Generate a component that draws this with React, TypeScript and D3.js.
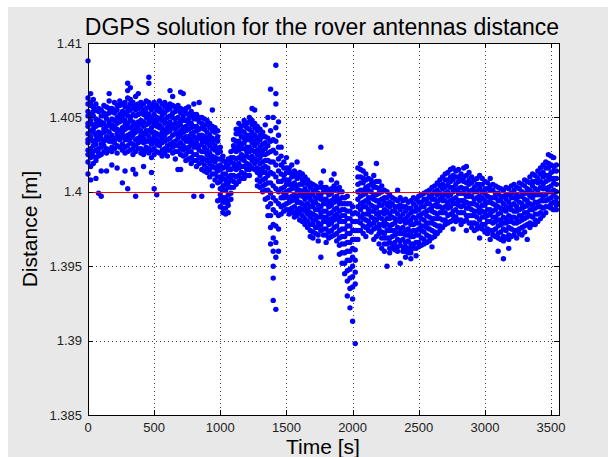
import React from "react";
import * as d3 from "d3";

// Distance samples: each row = [time (s), ...offsets from 1.4 m in units of 0.1 mm]
const segA: number[][] = [
  [0, 88, 63, 59, 54, 51, 46, 44, 39, 35, 33, 28, 25, 20, 12],
  [20, 66, 60, 58, 52, 48, 46, 41, 37, 35, 29, 26, 23, 17, 8],
  [40, 62, 57, 54, 51, 45, 42, 40, 34, 31, 27, 24, 19],
  [60, 59, 55, 49, 46, 44, 38, 35, 32, 28, 23, 21, 9],
  [80, 56, 54, 48, 45, 40, 37, 35, 29, 26, 24, -1],
  [100, 55, 51, 47, 45, 39, 36, 32, 30, 25, 14, -3],
  [120, 58, 53, 51, 46, 42, 40, 34, 31, 27],
  [140, 57, 52, 49, 44, 41, 37, 35, 29, 26, 14],
  [160, 66, 61, 56, 53, 47, 45, 40, 36, 34, 28],
  [180, 56, 54, 49, 45, 43, 38, 34, 30, 27, 18],
  [200, 60, 55, 53, 48, 44, 42, 36, 33, 29],
  [220, 58, 55, 50, 46, 42, 39, 36, 31, 26, 16],
  [240, 61, 58, 52, 49, 47, 41, 37, 35, 30],
  [260, 59, 54, 51, 48, 43, 40, 37, 32, 28, 6],
  [280, 60, 57, 53, 48, 45, 42, 37, 35, 30, 26, 14],
  [300, 73, 68, 63, 57, 54, 51, 46, 43, 38, 35, 31, 27, 2],
  [320, 70, 62, 59, 55, 50, 48, 43, 39, 36, 33, 28],
  [340, 60, 57, 52, 47, 45, 41, 38, 32, 29, 25, 15],
  [360, 64, 58, 55, 51, 46, 43, 40, 35, 31, 27, 12, -3],
  [380, 66, 59, 56, 52, 47, 44, 41, 36, 33, 29],
  [400, 60, 57, 53, 48, 46, 41, 38, 34, 29, 26],
  [420, 59, 55, 52, 47, 44, 39, 36, 33, 28, 25, 17],
  [440, 61, 56, 53, 50, 45, 41, 39, 34, 30, 27],
  [460, 77, 73, 60, 57, 52, 48, 46, 41, 37, 34, 29, 26],
  [480, 58, 55, 50, 47, 43, 40, 35, 32, 28, 23, 13],
];
const segB: number[][] = [
  [500, 60, 57, 52, 48, 45, 40, 37, 34, 29, 25, 2],
  [520, 58, 55, 50, 47, 44, 39, 35, 32, 27, -2],
  [540, 61, 56, 54, 49, 45, 43, 38, 34, 31, 26],
  [560, 59, 54, 51, 48, 43, 40, 36, 33, 28, 24],
  [580, 60, 57, 53, 48, 46, 41, 38, 34, 29, 26],
  [600, 58, 55, 50, 46, 43, 40, 35, 31, 28, 24],
  [620, 68, 59, 56, 51, 47, 44, 41, 36, 32, 28],
  [640, 64, 58, 53, 50, 45, 43, 38, 33, 30, 26],
  [660, 57, 54, 49, 46, 42, 39, 34, 31, 27, 22],
  [680, 58, 55, 50, 46, 44, 39, 36, 31, 27, 15],
  [700, 67, 56, 53, 48, 45, 41, 38, 33, 29, 25, 15],
  [720, 66, 55, 51, 48, 43, 40, 36, 31, 28, 24],
  [740, 56, 53, 48, 44, 41, 37, 34, 29, 25, 21],
  [760, 57, 52, 49, 46, 42, 37, 34, 30, 27, 22],
  [780, 54, 51, 46, 43, 39, 35, 32, 27, 23, 19],
  [800, 59, 52, 49, 44, 40, 37, 33, 30, 25, 21, -3],
  [820, 52, 49, 44, 41, 36, 33, 30, 25, 21, 17],
  [840, 60, 50, 47, 42, 38, 36, 31, 28, 23, 19],
  [860, 50, 46, 43, 38, 35, 32, 27, 23, 20, 15, -3],
  [880, 49, 45, 42, 37, 34, 30, 27, 22, 18, 14],
  [900, 48, 45, 40, 36, 33, 28, 25, 21, 16, 13],
  [920, 46, 43, 38, 35, 31, 26, 23, 19, 15, 10],
  [940, 55, 44, 41, 36, 33, 29, 24, 21, 17, 12, 4],
  [960, 43, 40, 35, 31, 28, 23, 20, 16, 12, 8],
  [980, 41, 37, 34, 29, 26, 22, 17, 14, 10, 6, -6],
];
const segC: number[][] = [
  [1000, 30, 27, 22, 18, 15, 10, 7, 2, -2, -5, -10],
  [1020, 24, 21, 16, 12, 9, 4, 1, -4, -7, -11, -14],
  [1040, 20, 17, 12, 8, 5, 1, -4, -7, -11, -15],
  [1060, 22, 18, 15, 10, 6, 3, -2, -6, -9, -14],
  [1080, 27, 23, 20, 15, 11, 8, 3, -1, -5],
  [1100, 35, 31, 28, 23, 19, 16, 11, 7, 3],
  [1120, 42, 39, 34, 30, 27, 22, 18, 15, 10, 5],
  [1140, 46, 42, 39, 34, 31, 28, 23, 19, 16, 11, 7],
  [1160, 44, 41, 37, 32, 29, 25, 22, 17, 13, 9],
  [1180, 48, 45, 40, 36, 33, 29, 24, 21, 17, 12, 9],
  [1200, 46, 43, 38, 35, 30, 27, 24, 19, 15, 11],
  [1220, 50, 47, 42, 38, 35, 30, 27, 23, 18, 15, 11],
  [1240, 56, 48, 45, 40, 36, 33, 28, 24, 21, 16],
  [1260, 55, 46, 43, 38, 34, 31, 27, 22, 19, 15],
  [1280, 44, 41, 36, 33, 28, 25, 21, 16, 13, 8, 4],
  [1300, 42, 38, 35, 30, 26, 23, 19, 14, 11, 7, 3],
  [1320, 40, 37, 32, 28, 25, 20, 16, 13, 8, 4, 0],
  [1340, 45, 37, 33, 29, 25, 21, 17, 13, 9, 5, 1, -5],
  [1360, 50, 36, 31, 26, 21, 16, 11, 6, 1, -4, -10, -16],
  [1380, 69, 41, 34, 27, 20, 13, 6, -1, -8, -16, -24, -35],
  [1400, 50, 35, 28, 20, 12, 4, -4, -12, -22, -31, -40, -50, -58, -73],
  [1420, 85, 66, 59, 43, 34, 26, 18, 10, 2, -6, -14, -23, -34, -44, -79],
  [1440, 47, 38, 30, 22, 14, 7, 0, -8, -16, -25, -40],
  [1460, 30, 24, 18, 12, 7, 2, -4, -10, -15],
];
const segD: number[][] = [
  [1480, 20, 16, 11, 8, 3, -1, -4, -9, -13],
  [1500, 23, 16, 13, 8, 5, 0, -3, -8, -12],
  [1520, 16, 13, 8, 5, 1, -4, -7, -12, -15],
  [1540, 18, 13, 10, 5, 2, -3, -6, -11, -14],
  [1560, 14, 11, 6, 3, -2, -5, -10, -14, -17],
  [1580, 20, 12, 9, 4, 1, -4, -7, -12, -16],
  [1600, 13, 10, 5, 1, -2, -7, -11, -14, -19],
  [1620, 12, 8, 5, 0, -3, -8, -12, -16, -20],
  [1640, 10, 7, 2, -2, -5, -10, -13, -18, -22],
  [1660, 8, 5, 0, -3, -8, -12, -15, -20, -24],
  [1680, 6, 3, -2, -5, -10, -14, -17, -22, -26, -30],
  [1700, 5, 1, -2, -7, -10, -15, -19, -22, -27, -31],
  [1720, 4, 1, -4, -7, -12, -16, -19, -24, -28],
  [1740, 3, -1, -4, -9, -12, -17, -21, -24, -29, -33],
  [1760, 30, 6, 3, -2, -5, -10, -14, -17, -22, -26, -44],
  [1780, 14, 3, 0, -5, -8, -13, -17, -20, -25, -29],
  [1800, 3, 0, -5, -8, -13, -17, -20, -25, -29, -34],
  [1820, 1, -2, -7, -10, -15, -19, -22, -27, -31],
  [1840, 8, 2, -1, -6, -9, -14, -18, -21, -26, -30],
  [1860, 12, 4, 1, -4, -7, -12, -16, -19, -24, -29],
  [1880, 6, 2, -3, -6, -11, -15, -18, -23, -28, -33],
  [1900, 3, 0, -5, -8, -13, -17, -20, -26, -31, -36, -42],
  [1920, 0, -4, -8, -12, -16, -20, -25, -30, -35, -41, -48],
  [1940, -4, -8, -12, -16, -20, -25, -30, -35, -41, -48, -55],
  [1960, -3, -8, -13, -18, -23, -28, -34, -40, -46, -53, -60, -70],
  [1980, -8, -13, -18, -23, -28, -34, -40, -46, -52, -58, -65, -78],
  [2000, -10, -15, -20, -26, -32, -38, -44, -50, -57, -64, -72, -87],
  [2020, -14, -20, -26, -32, -39, -46, -54, -62, -102],
  [2040, 16, 10, 5, 0, -5, -10, -15, -20, -26, -32],
];
const segE: number[][] = [
  [2060, 19, 15, 10, 6, 1, -3, -8, -12, -17, -21, -26],
  [2080, 14, 9, 6, 1, -2, -7, -10, -15, -18, -23, -28],
  [2100, 12, 8, 3, -1, -6, -10, -15, -19, -24, -30],
  [2120, 9, 4, 1, -4, -7, -12, -15, -20, -23, -26],
  [2140, 8, 5, 0, -4, -9, -13, -17, -22, -27],
  [2160, 11, 6, 3, -2, -5, -10, -13, -18, -21, -25, -32],
  [2180, 19, 7, 3, -2, -6, -11, -15, -19, -24, -30],
  [2200, 7, 2, -1, -6, -9, -14, -17, -22, -25, -28, -35],
  [2220, 4, 0, -5, -9, -14, -18, -22, -27, -31, -38],
  [2240, 1, -4, -7, -12, -15, -20, -23, -28, -31, -35, -40],
  [2260, 0, -4, -9, -13, -18, -22, -26, -31, -35, -50],
  [2280, -2, -7, -10, -15, -18, -23, -26, -31, -34, -38, -41],
  [2300, -4, -8, -13, -17, -22, -26, -30, -35, -38],
  [2320, -5, -10, -13, -18, -21, -26, -29, -34, -37, -39],
  [2340, 1, -6, -10, -15, -19, -24, -28, -32, -37, -40],
  [2360, -4, -9, -12, -17, -20, -25, -28, -33, -36, -48],
  [2380, -6, -10, -15, -19, -24, -28, -32, -37, -40],
  [2400, -5, -10, -13, -18, -21, -26, -29, -34, -37, -40, -44],
  [2420, -7, -11, -16, -20, -25, -29, -33, -38, -41],
  [2440, -6, -11, -14, -19, -22, -27, -30, -35, -38, -41, -45],
  [2460, -4, -8, -13, -17, -22, -26, -30, -35, -38],
  [2480, -5, -10, -13, -18, -21, -26, -29, -34, -38, -43],
  [2500, -3, -7, -12, -16, -21, -25, -29, -34, -37],
];
const segF: number[][] = [
  [2520, -2, -7, -10, -15, -18, -23, -26, -31, -36],
  [2540, -1, -5, -10, -14, -19, -23, -27, -32, -35],
  [2560, 0, -5, -8, -13, -16, -21, -24, -29, -34],
  [2580, 1, -3, -8, -12, -17, -21, -25, -30, -33],
  [2600, 3, -2, -5, -10, -13, -18, -21, -26, -31, -37],
  [2620, 4, 0, -5, -9, -14, -18, -22, -27, -30],
  [2640, 6, 1, -2, -7, -10, -15, -18, -23, -28],
  [2660, 8, 4, -1, -5, -10, -14, -18, -23, -26],
  [2680, 10, 5, 2, -3, -6, -11, -14, -19, -24],
  [2700, 12, 8, 3, -1, -6, -10, -14, -19, -22],
  [2720, 13, 8, 5, 0, -3, -8, -11, -16, -21],
  [2740, 15, 10, 7, 3, -2, -6, -10, -15, -20],
  [2760, 16, 11, 8, 3, 0, -5, -8, -13, -16, -19, -25],
  [2780, 14, 10, 5, 1, -4, -8, -12, -17, -20],
  [2800, 15, 10, 7, 2, -1, -6, -9, -14, -19],
  [2820, 12, 8, 3, -1, -6, -10, -14, -19, -22],
  [2840, 16, 10, 7, 2, -1, -6, -9, -14, -20],
  [2860, 17, 11, 6, 2, -3, -7, -11, -16, -19, -26],
  [2880, 13, 8, 5, 0, -3, -8, -11, -16, -21],
  [2900, 10, 6, 1, -3, -8, -12, -16, -21, -24],
  [2920, 8, 3, 0, -5, -8, -13, -16, -21, -26],
  [2940, 9, 5, 0, -4, -9, -13, -17, -22, -25],
  [2960, 11, 5, 2, -3, -6, -11, -14, -19, -24, -31],
  [2980, 9, 5, 0, -4, -9, -13, -17, -22, -25],
  [3000, 7, 2, -1, -6, -9, -14, -17, -22, -27],
];
const segG: number[][] = [
  [3020, 6, 2, -3, -7, -12, -16, -20, -25, -28],
  [3040, 9, 4, 1, -4, -7, -12, -15, -20, -26, -32],
  [3060, 5, 1, -4, -8, -13, -17, -21, -26, -29],
  [3080, 4, -1, -4, -9, -12, -17, -20, -25, -30],
  [3100, 3, -1, -6, -10, -15, -19, -23, -28, -31, -40],
  [3120, 2, -3, -6, -11, -14, -19, -22, -27, -32],
  [3140, 1, -3, -8, -12, -17, -21, -25, -30, -33, -45],
  [3160, 3, -2, -5, -10, -13, -18, -21, -26, -31],
  [3180, 2, -2, -7, -11, -16, -20, -24, -29, -32, -38],
  [3200, 4, -1, -4, -9, -12, -17, -20, -25, -30],
  [3220, 5, 1, -4, -8, -13, -17, -21, -26, -29],
  [3240, 3, -2, -5, -10, -13, -18, -21, -26, -31],
  [3260, 6, 2, -3, -7, -12, -16, -20, -25, -28],
  [3280, 5, 0, -3, -8, -11, -16, -19, -24, -29],
  [3300, 8, 4, -1, -5, -10, -14, -18, -23, -27],
  [3320, 7, 2, -1, -6, -9, -14, -17, -22, -32],
  [3340, 10, 6, 1, -3, -8, -12, -16, -21, -24],
  [3360, 12, 7, 4, -1, -4, -9, -12, -17, -22],
  [3380, 11, 7, 2, -2, -7, -11, -15, -19, -22],
  [3400, 14, 9, 6, 1, -2, -7, -10, -15, -20],
  [3420, 16, 12, 7, 3, -2, -6, -10, -14, -18],
  [3440, 18, 13, 10, 5, 2, -3, -6, -11, -16],
  [3460, 20, 16, 11, 7, 2, -2, -6, -10, -14],
  [3480, 25, 19, 16, 11, 8, 3, 0, -5, -10],
  [3500, 24, 18, 13, 9, 4, 0, -4, -8, -11],
  [3520, 23, 17, 14, 9, 6, 1, -2, -7, -12],
  [3540, 18, 14, 9, 5, 0, -4, -7, -9, -12],
];

const REFERENCE_DISTANCE = 1.4;
const OFFSET_UNIT = 1e-4;
const xTicks = [0, 500, 1000, 1500, 2000, 2500, 3000, 3500];
const yTicks = [1.385, 1.39, 1.395, 1.4, 1.405, 1.41];
const yTickLabels = ["1.385", "1.39", "1.395", "1.4", "1.405", "1.41"];
const X_MAX = 3560;

const title = "DGPS solution for the rover antennas distance";
const xLabel = "Time [s]";
const yLabel = "Distance [m]";

export default function App() {
  const left = 88, right = 559, top = 43, bottom = 415;
  const x = d3.scaleLinear().domain([0, X_MAX]).range([left, right]);
  const y = d3.scaleLinear().domain([1.385, 1.41]).range([bottom, top]);

  const points: { t: number; d: number }[] = [];
  for (const seg of [segA, segB, segC, segD, segE, segF, segG]) {
    for (const row of seg) {
      const t = row[0];
      for (let i = 1; i < row.length; i++) {
        points.push({ t, d: REFERENCE_DISTANCE + row[i] * OFFSET_UNIT });
      }
    }
  }

  const font = "'Liberation Sans', Arial, Helvetica, sans-serif";
  const px = (v: number) => Math.round(v) + 0.5;
  const tickLen = 5;

  return (
    <svg
      width={608}
      height={457}
      style={{ position: "absolute", left: 0, top: 0, display: "block" }}
    >
      <rect x={0} y={0} width={608} height={457} fill="#ffffff" />
      <rect x={8} y={7} width={600} height={450} fill="#e8e8e8" />
      <rect x={left} y={top} width={right - left} height={bottom - top} fill="#ffffff" />

      {/* grid */}
      <g stroke="#000" strokeWidth={1} strokeDasharray="1,3" opacity={0.75}>
        {xTicks.filter((t) => t > 0).map((t) => (
          <line key={"gx" + t} x1={px(x(t))} x2={px(x(t))} y1={top} y2={bottom} />
        ))}
        {yTicks.filter((v) => v > 1.385 && v < 1.41).map((v) => (
          <line key={"gy" + v} x1={left} x2={right} y1={px(y(v))} y2={px(y(v))} />
        ))}
      </g>

      {/* data */}
      <g fill="#0000ff">
        {points.map((p, i) => (
          <circle key={i} cx={x(p.t)} cy={y(p.d)} r={2.7} />
        ))}
      </g>

      {/* reference line */}
      <line
        x1={x(0)}
        x2={x(X_MAX)}
        y1={px(y(REFERENCE_DISTANCE))}
        y2={px(y(REFERENCE_DISTANCE))}
        stroke="#ff0000"
        strokeWidth={1}
      />

      {/* axes box and ticks */}
      <g stroke="#000" strokeWidth={1} fill="none">
        <rect x={px(left)} y={px(top)} width={Math.round(right - left)} height={Math.round(bottom - top)} />
        {xTicks.map((t) => (
          <g key={"tx" + t}>
            <line x1={px(x(t))} x2={px(x(t))} y1={bottom} y2={bottom - tickLen} />
            <line x1={px(x(t))} x2={px(x(t))} y1={top} y2={top + tickLen} />
          </g>
        ))}
        {yTicks.map((v) => (
          <g key={"ty" + v}>
            <line x1={left} x2={left + tickLen} y1={px(y(v))} y2={px(y(v))} />
            <line x1={right} x2={right - tickLen} y1={px(y(v))} y2={px(y(v))} />
          </g>
        ))}
      </g>

      {/* tick labels */}
      <g fontFamily={font} fontSize={13} fill="#222">
        {xTicks.map((t) => (
          <text key={"lx" + t} x={x(t)} y={432} textAnchor="middle">
            {t}
          </text>
        ))}
        {yTicks.map((v, i) => (
          <text key={"ly" + v} x={82} y={y(v) + 4.6} textAnchor="end">
            {yTickLabels[i]}
          </text>
        ))}
      </g>

      <text x={322} y={35} textAnchor="middle" fontFamily={font} fontSize={23} fill="#000">
        {title}
      </text>
      <text x={323} y={454} textAnchor="middle" fontFamily={font} fontSize={21} fill="#000">
        {xLabel}
      </text>
      <text
        transform={`translate(37, ${(top + bottom) / 2}) rotate(-90)`}
        textAnchor="middle"
        fontFamily={font}
        fontSize={21}
        fill="#000"
      >
        {yLabel}
      </text>
    </svg>
  );
}
